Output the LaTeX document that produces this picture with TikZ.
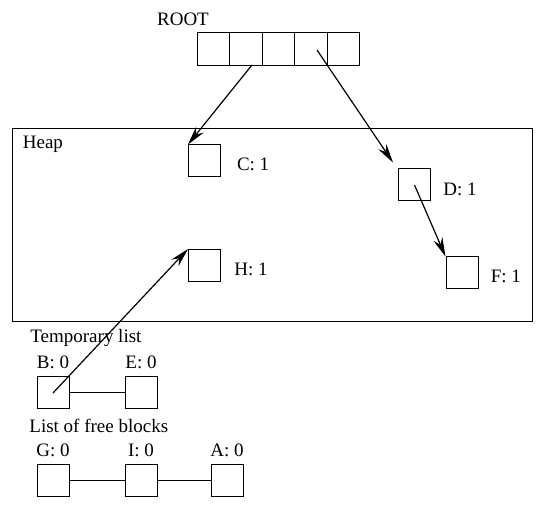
\documentclass[tikz,border=0pt]{standalone}
\usepackage{fontspec}
\setmainfont{Liberation Serif}
\usetikzlibrary{positioning,arrows.meta}

\begin{document}
\begin{tikzpicture}[
    x=0.5pt, y=-0.5pt,
    every node/.style={font=\fontsize{9.5}{11}\selectfont},
    cell/.style={draw, line width=0.5pt, minimum width=16.3pt, minimum height=16.2pt, inner sep=0pt},
    blk/.style={draw, line width=0.5pt, minimum size=16pt, inner sep=0pt},
    lab/.style={inner sep=0pt},
    ptr/.style={line width=0.6pt, -{Stealth[length=9.5pt,width=4.8pt]}},
    link/.style={line width=0.5pt},
]
\useasboundingbox (0,0) rectangle (536,507);

% ---------------------------------------------------------------
% Root set
% ---------------------------------------------------------------
\node[lab] (rootlab) at (183,19.5) {ROOT};
\foreach \i in {1,...,5} {
    \node[cell] (r\i) at ({181+32.5*\i},49) {};
}

% ---------------------------------------------------------------
% Heap
% ---------------------------------------------------------------
\draw[line width=0.5pt] (12.7,129) rectangle (532,322);
\node[lab, anchor=base west] (heaplab) at (22.5,149) {Heap};

\node[blk] (C) at (204.5,161) {};
\node[blk] (D) at (414.5,185) {};
\node[blk] (F) at (462,273) {};
\node[blk] (H) at (204.5,265.5) {};

\node[lab, right=7.8pt of C, yshift=-1.75pt] (Clab) {C: 1};
\node[lab, right=6pt of D, yshift=-2.3pt] (Dlab) {D: 1};
\node[lab, right=6pt of F, yshift=-1.8pt] (Flab) {F: 1};
\node[lab, right=6.5pt of H, yshift=-1.75pt] (Hlab) {H: 1};

% ---------------------------------------------------------------
% Temporary list and free list
% ---------------------------------------------------------------
\node[lab, anchor=base west] (tmplab) at (30,342.5) {Temporary list};
\node[blk] (B) at (53,393) {};
\node[blk] (E) at (141,393) {};
\node[lab, above=3.5pt of B] (Blab) {B: 0};
\node[lab, above=3.5pt of E] (Elab) {E: 0};
\draw[link] (B) -- (E);

\node[lab, anchor=base west] (freelab) at (29,433) {List of free blocks};
\node[blk] (G) at (53,480.5) {};
\node[blk] (I) at (141,480.5) {};
\node[blk] (A) at (227,480.5) {};
\node[lab, above=3.5pt of G] (Glab) {G: 0};
\node[lab, above=3.5pt of I] (Ilab) {I: 0};
\node[lab, above=3.5pt of A] (Alab) {A: 0};
\draw[link] (G) -- (I);
\draw[link] (I) -- (A);

% ---------------------------------------------------------------
% Pointers
% ---------------------------------------------------------------
\coordinate (p2) at (252,65);
\coordinate (p4) at (317,50);
\draw[ptr] (p2) -- (C.north west);
\draw[ptr] (p4) -- ([shift={(-5,-6)}]D.north west);
\draw[ptr] (D.center) -- (F.north west);
\draw[ptr] (B.center) -- (H.north west);

\end{tikzpicture}
\end{document}
